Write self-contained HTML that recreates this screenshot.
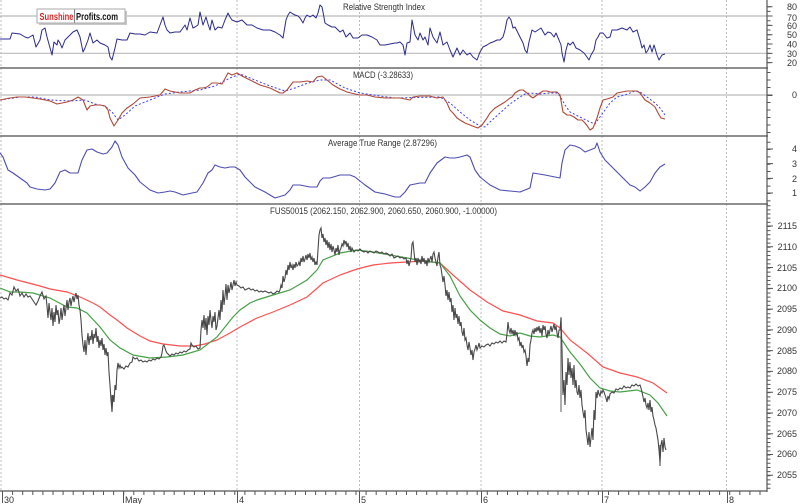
<!DOCTYPE html>
<html><head><meta charset="utf-8"><style>
html,body{margin:0;padding:0;background:#fff;}
svg{display:block;}
text{font-family:"Liberation Sans",Arial,sans-serif;}
</style></head><body>
<svg width="800" height="504" viewBox="0 0 800 504" xmlns="http://www.w3.org/2000/svg">
<rect x="0" y="0" width="800" height="504" fill="#fff"/>
<!-- day gridlines -->
<g stroke="#bdbdbd" stroke-width="1" stroke-dasharray="2,2">
<line x1="1" y1="0" x2="1" y2="491"/>
<line x1="237" y1="0" x2="237" y2="491"/>
<line x1="359.5" y1="0" x2="359.5" y2="491"/>
<line x1="481" y1="0" x2="481" y2="491"/>
<line x1="602" y1="0" x2="602" y2="491"/>
<line x1="726.5" y1="0" x2="726.5" y2="491"/>
</g>
<!-- RSI reference lines -->
<line x1="0" y1="16" x2="767" y2="16" stroke="#aaa" stroke-width="1"/>
<line x1="0" y1="53.3" x2="767" y2="53.3" stroke="#bbb" stroke-width="1.2"/>
<line x1="0" y1="95" x2="767" y2="95" stroke="#bbb" stroke-width="1.2"/>
<!-- panel separators -->
<g stroke="#6a6a6a" stroke-width="1.6">
<line x1="0" y1="68" x2="768" y2="68"/>
<line x1="0" y1="136" x2="768" y2="136"/>
<line x1="0" y1="204" x2="768" y2="204"/>
</g>
<!-- axes -->
<line x1="767" y1="0" x2="767" y2="492" stroke="#555" stroke-width="1.2"/>
<line x1="0" y1="491" x2="767" y2="491" stroke="#555" stroke-width="1.2"/>
<!-- right ticks -->
<g stroke="#555">
<line x1="769" y1="6.2" x2="769" y2="66" stroke-width="3" stroke-dasharray="1 3.665"/>
<line x1="770" y1="6.2" x2="770" y2="66" stroke-width="5" stroke-dasharray="1 8.33"/>
<line x1="769" y1="72" x2="769" y2="134" stroke-width="3" stroke-dasharray="1 6.5"/>
<line x1="770" y1="94.5" x2="770" y2="96" stroke-width="5"/>
<line x1="769" y1="141.7" x2="769" y2="203" stroke-width="3" stroke-dasharray="1 6.33"/>
<line x1="770" y1="148.5" x2="770" y2="195" stroke-width="6" stroke-dasharray="1 13.67"/>
<line x1="769" y1="205.2" x2="769" y2="490" stroke-width="3" stroke-dasharray="1 3.155"/>
<line x1="770" y1="225.5" x2="770" y2="490" stroke-width="6" stroke-dasharray="1 19.775"/>
<!-- bottom ticks -->
<line x1="2" y1="493" x2="767" y2="493" stroke-width="4" stroke-dasharray="1 9.1"/>
<line x1="2.5" y1="491" x2="2.5" y2="503" stroke-width="1"/>
<line x1="123.5" y1="491" x2="123.5" y2="503" stroke-width="1"/>
<line x1="237.5" y1="491" x2="237.5" y2="503" stroke-width="1"/>
<line x1="359.5" y1="491" x2="359.5" y2="503" stroke-width="1"/>
<line x1="481.5" y1="491" x2="481.5" y2="503" stroke-width="1"/>
<line x1="602.5" y1="491" x2="602.5" y2="503" stroke-width="1"/>
<line x1="727.5" y1="491" x2="727.5" y2="503" stroke-width="1"/>
</g>
<!-- labels -->
<g font-size="9" fill="#333" text-anchor="end">
<text x="797" y="10">80</text><text x="797" y="21">70</text><text x="797" y="29">60</text><text x="797" y="38">50</text><text x="797" y="47.5">40</text><text x="797" y="57">30</text><text x="797" y="66">20</text>
<text x="797" y="98">0</text>
<text x="797" y="152">4</text><text x="797" y="167">3</text><text x="797" y="182">2</text><text x="797" y="196">1</text>
<text x="797" y="229">2115</text><text x="797" y="250">2110</text><text x="797" y="271">2105</text><text x="797" y="291">2100</text><text x="797" y="312">2095</text><text x="797" y="333">2090</text><text x="797" y="354">2085</text><text x="797" y="374">2080</text><text x="797" y="395">2075</text><text x="797" y="416">2070</text><text x="797" y="437">2065</text><text x="797" y="457">2060</text><text x="797" y="478">2055</text>
</g>
<g font-size="9" fill="#333">
<text x="4" y="503">30</text><text x="125" y="503">May</text><text x="239" y="503">4</text><text x="361" y="503">5</text><text x="483" y="503">6</text><text x="604" y="503">7</text><text x="729" y="503">8</text>
</g>
<!-- titles -->
<g font-size="9" fill="#333">
<text x="343" y="10" textLength="82" lengthAdjust="spacingAndGlyphs">Relative Strength Index</text>
<text x="353" y="78" textLength="60" lengthAdjust="spacingAndGlyphs">MACD (-3.28633)</text>
<text x="328" y="146" textLength="109" lengthAdjust="spacingAndGlyphs">Average True Range (2.87296)</text>
<text x="270" y="214" textLength="227" lengthAdjust="spacingAndGlyphs">FUS50015 (2062.150, 2062.900, 2060.650, 2060.900, -1.00000)</text>
</g>
<!-- logo -->
<rect x="39" y="11" width="88" height="14" fill="#c8c8c8"/>
<rect x="37" y="9" width="88" height="14" fill="#fff" stroke="#aaa" stroke-width="1"/>
<line x1="74.5" y1="9" x2="74.5" y2="23" stroke="#888"/>
<text x="39.5" y="20" font-size="10" font-weight="bold" fill="#d42a2a" textLength="34" lengthAdjust="spacingAndGlyphs">Sunshine</text>
<text x="76" y="20" font-size="10" font-weight="bold" fill="#111" textLength="42" lengthAdjust="spacingAndGlyphs">Profits.com</text>
<!-- RSI -->
<polyline fill="none" stroke="#2b2b8f" stroke-width="1" stroke-linejoin="round" points="0,39 10,39 12,33 20,34 25,37 28,38 33,35 36,47 40,40 42,30 45,28 47,37 52,55 54,42 57,45 58,40 60,43 62,48 65,40 70,35 73,32 77,30 80,37 83,52 85,48 88,40 90,33 93,43 97,40 100,43 105,45 108,47 110,57 112,60 115,48 117,39 122,40 127,40 130,33 135,34 140,34 145,35 150,32 157,33 160,25 163,17 165,25 167,30 170,33 175,32 180,32 185,25 187,30 190,18 193,28 195,27 198,25 200,12 203,25 206,17 208,24 210,30 212,20 215,30 218,27 222,28 225,20 228,13 230,17 232,20 237,22 242,20 247,25 252,25 257,28 263,30 270,30 275,32 280,35 283,38 286,20 288,15 290,12 293,14 295,15 298,16 300,18 303,23 305,18 307,15 310,17 313,15 316,18 318,13 320,5 322,7 323,12 325,23 328,25 332,27 335,27 340,32 343,30 346,37 350,33 353,38 358,38 362,35 367,35 372,37 377,40 380,45 385,45 390,44 395,43 397,43 400,42 403,45 405,55 407,43 410,42 412,20 415,35 418,40 420,33 423,40 425,37 428,45 430,28 433,37 437,43 440,32 443,45 447,42 450,50 453,57 457,48 460,55 463,50 467,55 470,53 473,57 477,60 480,52 483,47 487,45 490,43 493,42 497,40 500,40 503,37 505,30 507,20 509,17 511,20 513,28 515,27 518,33 520,37 523,43 525,50 527,53 529,42 532,30 535,32 538,30 541,28 545,35 548,32 551,33 554,37 556,33 559,40 561,45 562,53 564,62 566,50 568,43 570,45 573,42 576,48 580,50 584,53 587,57 589,60 591,55 594,50 596,40 598,37 600,33 603,33 607,38 610,37 612,30 617,30 622,28 627,30 630,27 633,32 637,30 640,40 642,48 644,45 646,53 648,50 650,45 652,52 654,45 657,55 659,60 662,55 665,54"/>
<!-- MACD -->
<polyline fill="none" stroke="#3d3dff" stroke-width="1" stroke-dasharray="2,2" points="0,100 20,97 35,97 50,100 70,101 85,100 95,104 105,106 112,112 118,120 125,115 135,106 150,100 165,94 180,92 200,90 215,86 230,78 240,74 255,80 270,86 285,91 295,88 305,84 320,80 330,80 345,88 360,93 380,96 395,98 440,97 450,103 460,112 470,120 480,126 485,127 490,122 500,113 510,104 520,97 525,94 530,93 540,94 550,93 557,93 560,96 565,105 570,112 580,117 590,122 595,124 600,117 605,110 610,103 617,97 625,95 635,91 640,92 647,97 655,103 660,108 665,115"/>
<polyline fill="none" stroke="#b04838" stroke-width="1.1" stroke-linejoin="round" points="0,100 10,98 17,97 25,97 33,98 40,99 50,101 57,104 62,103 67,102 73,100 78,97 83,100 87,110 90,106 95,105 100,105 105,106 108,110 110,118 114,126 118,120 122,113 127,108 133,104 140,98 150,97 160,95 165,89 170,91 180,93 190,93 195,90 200,88 203,88 207,87 212,83 217,83 222,84 228,73 232,75 237,73 242,76 250,80 260,85 270,88 280,93 283,93 287,90 293,82 300,82 307,81 313,82 317,77 322,76 327,80 333,85 340,89 347,92 355,94 360,95 367,95 375,97 385,98 395,98 400,98 410,100 413,97 420,96 430,96 433,97 437,98 443,97 447,103 450,110 453,113 457,118 460,120 465,123 470,125 475,127 478,128 482,125 487,118 490,113 495,108 500,105 505,102 510,98 512,97 515,93 518,91 520,90 523,90 527,93 530,96 533,98 537,95 540,93 543,91 547,91 550,92 557,92 560,95 563,112 567,115 570,115 574,117 578,120 582,120 585,123 588,127 590,130 593,128 597,118 600,108 603,100 607,99 610,98 613,97 617,93 622,92 627,91 632,91 637,91 640,93 645,100 650,103 655,107 658,113 661,118 665,119"/>
<!-- ATR -->
<polyline fill="none" stroke="#4d4db3" stroke-width="1.1" stroke-linejoin="round" points="0,153 3,157 8,170 13,173 20,178 27,183 30,187 37,189 45,190 50,189 55,183 60,172 65,170 70,173 78,173 82,160 87,150 92,149 97,152 103,154 107,153 112,147 115,141 118,145 122,157 128,168 135,175 140,182 150,190 158,193 165,192 170,191 175,192 183,195 192,193 197,192 203,183 208,173 212,170 215,165 220,167 225,168 230,167 235,167 240,170 245,177 255,187 265,192 275,198 285,195 290,190 293,185 300,185 310,187 317,187 320,181 323,178 330,178 340,175 350,175 355,177 365,185 375,192 385,194 395,197 400,197 405,192 410,185 420,183 425,183 430,173 437,163 445,157 450,158 455,158 460,157 467,155 470,157 475,170 480,177 490,185 500,190 510,191 520,192 525,190 530,188 533,173 545,175 555,177 560,178 562,163 565,150 570,145 575,146 580,148 585,152 590,150 595,148 597,143 600,152 605,160 610,165 615,170 620,175 625,180 630,185 635,187 640,191 645,187 650,182 655,173 660,167 665,164"/>
<!-- moving averages -->
<polyline fill="none" stroke="#ff5050" stroke-width="1.2" points="0,275 17,280 40,286 50,289 67,292 80,297 93,303 100,307 110,315 117,320 127,328 140,336 150,341 163,344 180,346 195,346 205,344 217,340 230,333 240,327 257,318 273,312 290,305 307,297 323,283 340,275 357,269 373,265 390,263 407,262 423,261 440,263 453,275 470,290 487,302 503,311 520,315 537,321 553,323 560,328 570,340 587,353 603,367 620,373 637,377 653,383 667,393"/>
<polyline fill="none" stroke="#46a046" stroke-width="1.2" points="0,288 10,292 20,292 33,293 50,298 67,307 77,308 87,313 100,327 110,340 120,348 133,355 150,358 167,357 183,355 200,350 217,337 233,317 240,310 250,303 257,300 273,295 290,290 307,280 317,270 323,260 340,253 357,250 373,252 390,255 407,258 423,261 440,263 450,276 460,296 470,310 480,320 490,328 500,334 510,336 520,333 530,336 540,337 553,335 560,337 570,352 580,364 590,378 600,388 610,391 620,392 637,390 650,395 658,403 667,416"/>
<!-- price -->
<line x1="561" y1="317" x2="561" y2="412" stroke="#777" stroke-width="1.2"/>
<line x1="112" y1="395" x2="112" y2="412" stroke="#555" stroke-width="1.2"/>
<line x1="660" y1="445" x2="660" y2="466" stroke="#555" stroke-width="1.2"/>
<polyline fill="none" stroke="#484848" stroke-width="1.1" stroke-linejoin="miter" points="0,298 2,297 4,299 6,298 8,300 10,293 12,295 14,287 16,291 18,289 20,296 22,293 24,297 26,294 28,297 30,296 32,299 34,302 36,305 38,301 40,296 42,292 44,299 46,296 47,306 48,318 49,303 50,312 51,320 52,308 53,326 54,312 55,322 56,305 57,315 58,310 59,324 60,318 61,308 62,320 63,312 64,305 65,316 66,308 67,300 68,310 69,302 70,298 71,306 72,300 73,296 74,302 75,297 76,293 77,299 78,295 79,305 80,310 81,320 82,335 83,345 84,352 85,340 86,355 87,342 88,333 89,345 90,336 91,340 92,330 93,344 94,334 95,338 96,328 97,342 98,336 99,348 100,340 101,346 102,338 103,350 104,344 105,355 106,348 107,356 108,352 109,372 110,385 111,400 112,411 113,395 114,402 115,385 116,390 117,370 118,363 119,368 120,365 121,368 122,367 124,369 126,366 128,367 130,363 132,362 133,357 135,359 137,358 139,361 141,360 143,362 145,361 147,362 149,360 151,361 153,359 155,360 157,358 159,359 161,357 162,353 163,346 164,345 166,351 167,353 169,355 170,356 172,354 174,355 176,353 178,354 180,352 182,353 184,351 186,352 188,350 190,349 191,343 192,345 194,347 196,346 198,349 200,348 201,330 202,320 203,328 204,315 205,330 206,318 207,335 208,316 209,325 210,310 211,320 212,328 213,316 214,322 215,312 216,330 217,326 218,318 219,310 220,320 221,300 222,312 223,290 224,305 225,296 226,284 227,300 228,285 229,293 230,288 231,282 232,290 233,285 234,280 235,286 236,282 237,285 239,286 241,288 243,287 245,290 247,289 249,288 251,290 253,289 255,291 257,290 259,292 261,291 263,292 265,291 267,292 269,293 271,292 273,294 275,293 277,291 279,292 280,290 281,285 282,288 283,276 284,282 285,278 286,270 287,275 288,265 289,270 290,262 291,268 292,265 293,270 294,264 295,268 296,262 297,266 298,265 299,262 300,266 301,258 302,262 303,256 304,262 305,259 306,255 307,260 308,254 309,258 310,253 311,260 312,257 313,262 314,258 315,265 316,262 317,265 318,250 319,235 320,230 321,228 322,238 323,234 324,242 325,238 326,245 327,240 328,248 329,242 330,250 331,244 332,252 333,246 334,250 335,255 336,248 337,252 338,245 339,255 340,250 341,248 342,244 343,246 344,240 345,244 346,241 347,247 348,243 349,250 350,246 351,252 352,248 354,252 356,250 358,251 360,249 362,251 364,252 366,251 368,253 370,251 372,252 374,253 376,251 378,252 380,253 382,252 384,254 386,253 388,254 390,256 392,254 394,258 396,257 398,256 400,258 402,257 404,259 406,258 407,264 408,260 409,266 410,262 411,258 412,244 413,242 414,252 415,262 416,258 417,265 418,258 419,262 420,260 421,264 422,256 423,262 424,258 425,264 426,260 427,266 428,258 429,262 430,259 431,256 432,262 433,254 434,252 435,258 436,262 437,266 438,257 439,252 440,265 441,268 442,275 443,282 444,276 445,285 446,296 447,290 448,300 449,292 450,302 451,298 452,312 453,305 454,320 455,308 456,318 457,314 458,324 459,316 460,326 461,322 462,332 463,336 464,328 465,340 466,338 467,345 468,350 469,342 470,348 471,355 472,350 473,360 474,352 475,349 476,345 477,350 478,347 479,343 480,348 482,346 484,347 486,345 488,344 490,346 492,343 494,344 496,342 498,343 500,341 502,343 504,341 506,342 507,334 508,322 509,330 510,333 511,328 512,334 513,330 514,336 515,330 516,335 517,332 518,340 519,338 520,346 521,342 522,348 523,345 524,352 525,350 526,356 527,366 528,358 529,362 530,345 531,340 532,333 533,330 534,334 535,328 536,332 537,327 538,331 539,326 540,333 541,328 542,336 543,325 544,330 545,326 546,334 547,338 548,330 549,335 550,330 551,326 552,332 553,328 554,324 555,330 556,326 557,333 558,338 559,330 560,330 561,318 562,350 563,395 564,380 565,405 566,372 567,385 568,358 569,375 570,362 571,378 572,368 573,385 574,365 575,388 576,380 577,392 578,395 579,385 580,398 581,390 582,405 583,412 584,418 585,410 586,430 587,437 588,445 589,432 590,447 591,438 592,428 593,440 594,410 595,420 596,392 597,398 598,390 599,394 600,396 601,391 602,393 603,390 604,392 605,395 606,398 607,402 608,396 609,399 610,394 612,392 614,393 616,389 618,390 620,388 622,389 624,386 626,388 628,387 630,388 632,385 634,386 636,384 638,386 640,385 641,388 642,392 643,397 644,402 645,398 646,405 647,408 648,403 649,410 650,400 651,412 652,407 653,416 654,420 655,425 656,428 657,434 658,440 659,450 660,462 661,445 662,440 663,452 664,438 665,447 666,450"/>
</svg>
</body></html>
